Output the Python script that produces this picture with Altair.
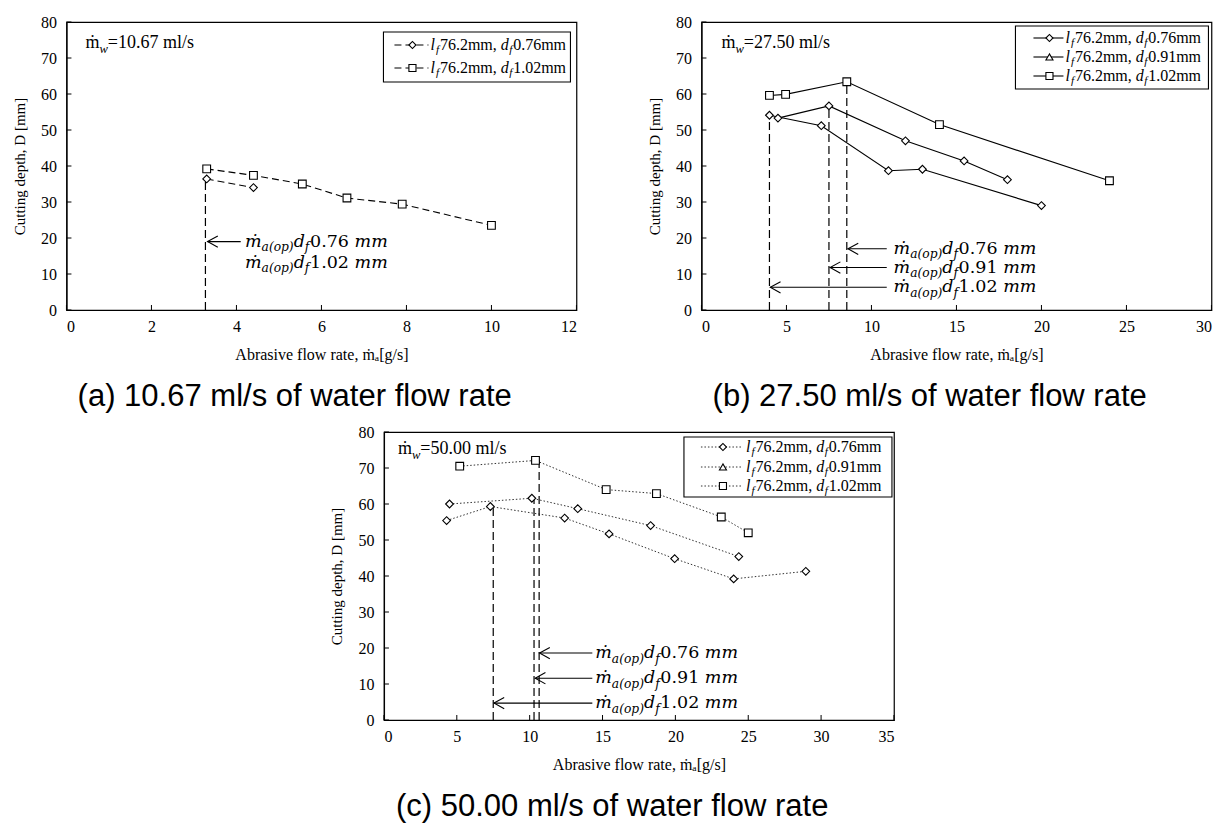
import altair as alt
import pandas as pd

# ------------------------------------------------------------------ data
LF = "76.2"
DF_NAMES = ["0.76", "0.91", "1.02"]
SHAPES = ["diamond", "triangle-up", "square"]

# (a) water flow 10.67 ml/s
A_FLOW = "10.67"
A_CAPTION = "(a) 10.67 ml/s of water flow rate"
A_X_076 = [3.3, 4.4]
A_Y_076 = [36.4, 34.0]
A_X_102 = [3.3, 4.4, 5.55, 6.6, 7.9, 10.0]
A_Y_102 = [39.2, 37.4, 35.0, 31.1, 29.4, 23.5]
A_OPT_X = [3.27]
A_OPT_TOP = [36.4]
A_ARROW_HEAD = [3.32]
A_ARROW_TAIL = [4.1]
A_ARROW_Y = [19.0]
A_LABEL_X = 4.2
A_LABEL_Y = [19.0, 13.1]
A_LABEL_DF = ["0.76", "1.02"]

# (b) water flow 27.50 ml/s
B_FLOW = "27.50"
B_CAPTION = "(b) 27.50 ml/s of water flow rate"
B_X_076 = [4.0, 7.05, 11.0, 13.0, 20.0]
B_Y_076 = [54.1, 51.2, 38.7, 39.1, 29.0]
B_X_091 = [4.5, 7.5, 12.0, 15.45, 18.0]
B_Y_091 = [53.3, 56.7, 47.0, 41.4, 36.2]
B_X_102 = [4.0, 4.95, 8.55, 14.0, 24.0]
B_Y_102 = [59.6, 59.9, 63.4, 51.5, 35.9]
B_OPT_X = [4.0, 7.5, 8.55]
B_OPT_TOP = [54.1, 56.7, 63.4]
B_ARROW_HEAD = [8.62, 7.57, 4.05]
B_ARROW_TAIL = [10.9, 10.9, 10.9]
B_ARROW_Y = [17.0, 11.8, 6.3]
B_LABEL_X = 11.3
B_LABEL_Y = [17.0, 11.8, 6.3]
B_LABEL_DF = ["0.76", "0.91", "1.02"]

# (c) water flow 50.00 ml/s
C_FLOW = "50.00"
C_CAPTION = "(c) 50.00 ml/s of water flow rate"
C_X_076 = [4.3, 7.3, 12.4, 15.45, 19.95, 24.0, 28.95]
C_Y_076 = [55.4, 59.3, 56.1, 51.7, 44.8, 39.2, 41.3]
C_X_091 = [4.5, 10.15, 13.3, 18.3, 24.35]
C_Y_091 = [60.0, 61.6, 58.7, 54.0, 45.4]
C_X_102 = [5.2, 10.4, 15.25, 18.7, 23.15, 25.0]
C_Y_102 = [70.5, 72.1, 64.0, 62.9, 56.4, 52.0]
C_OPT_X = [7.5, 10.3, 10.65]
C_OPT_TOP = [59.3, 61.6, 72.1]
C_ARROW_HEAD = [10.68, 10.38, 7.55]
C_ARROW_TAIL = [14.3, 14.3, 14.3]
C_ARROW_Y = [18.6, 11.6, 4.7]
C_LABEL_X = 14.5
C_LABEL_Y = [18.6, 11.6, 4.7]
C_LABEL_DF = ["0.76", "0.91", "1.02"]

Y_TICKS = [0, 10, 20, 30, 40, 50, 60, 70, 80]
A_X_TICKS = [0, 2, 4, 6, 8, 10, 12]
B_X_TICKS = [0, 5, 10, 15, 20, 25, 30]
C_X_TICKS = [0, 5, 10, 15, 20, 25, 30, 35]

# ------------------------------------------------------------------ style
SERIF = "Liberation Serif"
MATH = "DejaVu Serif"
SANS = "Liberation Sans"
W, H = 510, 288
ONE = pd.DataFrame({"k": [0]})

W_T = {c: .5 for c in "0123456789"}
W_T.update({".": .25, ",": .25, " ": .25, "m": .778, "l": .278, "s": .389,
            "/": .278, "=": .564, "ṁ": .778})
W_TI = {"l": .34, "d": .52, "f": .36, "w": .667, "a": .5, "(": .333,
        ")": .333, "o": .5, "p": .5, "m": .722, "ṁ": .722}
W_D = {c: .636 for c in "0123456789"}
W_D.update({".": .318, " ": .318})
W_DI = {"ṁ": .95, "m": .95, "a": .6, "o": .6, "p": .64, "d": .64, "f": .42,
        "(": .39, ")": .39, " ": .318}


def seg_width(txt, italic, font):
    if font == MATH:
        tab = W_DI if italic else W_D
    else:
        tab = W_TI if italic else W_T
    return sum(tab.get(c, .55) for c in txt)


def rich(segments, font, size, x, y):
    layers = []
    off = 0.0
    for txt, kind in segments:
        sub = "s" in kind
        it = "i" in kind
        fs = size * 0.7 if sub else size
        layers.append(
            alt.Chart(ONE).mark_text(
                text=txt, align="left", baseline="middle", font=font,
                fontSize=fs, fontStyle="italic" if it else "normal",
                dx=off, dy=size * 0.32 if sub else 0, color="black")
            .encode(x=x, y=y))
        off += seg_width(txt, it, font) * fs
    return layers


def panel(xmax, xticks, series, dash, lw, lcolor, opt_x, opt_top,
          a_head, a_tail, a_y, lab_x, lab_y, lab_df, flow, flow_pos,
          caption, leg_box, leg_rows, leg_line, leg_mark, leg_text,
          leg_dash):
    xscale = alt.Scale(domain=[0, xmax], nice=False, zero=True)
    yscale = alt.Scale(domain=[0, 80], nice=False, zero=True)
    xaxis = alt.Axis(values=xticks, title="Abrasive flow rate,  ṁₐ[g/s]",
                     labelPadding=8, titlePadding=12,
                     labelFont=SERIF, labelFontSize=16, titleFont=SERIF,
                     titleFontSize=16)
    yaxis = alt.Axis(values=Y_TICKS, title="Cutting depth, D [mm]",
                     labelPadding=10, titlePadding=13,
                     labelFont=SERIF, labelFontSize=16, titleFont=SERIF,
                     titleFontSize=15)

    def X(field=None, datum=None):
        if datum is not None:
            return alt.XDatum(datum, type="quantitative", scale=xscale, axis=xaxis)
        return alt.X(field, type="quantitative", scale=xscale, axis=xaxis)

    def Y(field=None, datum=None):
        if datum is not None:
            return alt.YDatum(datum, type="quantitative", scale=yscale, axis=yaxis)
        return alt.Y(field, type="quantitative", scale=yscale, axis=yaxis)

    rows = []
    for name, xs, ys in series:
        for xv, yv in zip(xs, ys):
            rows.append({"x": xv, "y": yv, "s": name})
    pts = pd.DataFrame(rows)
    names = [s[0] for s in series]
    shp = [SHAPES[DF_NAMES.index(n)] for n in names]

    layers = []
    lkw = dict(color=lcolor, strokeWidth=lw)
    if dash:
        lkw["strokeDash"] = dash
    layers.append(alt.Chart(pts).mark_line(**lkw).encode(
        x=X("x"), y=Y("y"), detail="s:N"))

    opt = pd.DataFrame({"x": opt_x, "y0": [0] * len(opt_x), "y1": opt_top})
    layers.append(alt.Chart(opt).mark_rule(color="black", strokeWidth=1.2,
                                           strokeDash=[8, 4]).encode(
        x=X("x"), y=Y("y0"), y2="y1"))

    arr = pd.DataFrame({"head": a_head, "tail": a_tail, "y": a_y})
    layers.append(alt.Chart(arr).mark_rule(color="black", strokeWidth=1.1).encode(
        x=X("tail"), x2="head", y=Y("y")))
    layers.append(alt.Chart(arr).mark_point(
        shape="M1,-0.55L0,0L1,0.55", size=420, filled=False, color="black",
        strokeWidth=1.1, opacity=1).encode(x=X("head"), y=Y("y")))

    layers.append(alt.Chart(pts).mark_point(
        filled=True, fill="white", stroke="black", strokeWidth=1.1, size=60,
        opacity=1).encode(
        x=X("x"), y=Y("y"),
        shape=alt.Shape("s:N", scale=alt.Scale(domain=names, range=shp),
                        legend=None)))

    tx = pd.DataFrame({"t": xticks})
    layers.append(alt.Chart(tx).mark_rule(color="black", strokeWidth=1).encode(
        x=X("t"), y=alt.value(H), y2=alt.value(H - 5)))
    ty = pd.DataFrame({"t": Y_TICKS})
    layers.append(alt.Chart(ty).mark_rule(color="black", strokeWidth=1).encode(
        y=Y("t"), x=alt.value(0), x2=alt.value(5)))

    for ly, dfn in zip(lab_y, lab_df):
        segs = [("ṁ", "i"), ("a(op)", "si"), ("d", "i"), ("f", "si"),
                (dfn, "n"), (" ", "n"), ("mm", "i")]
        layers += rich(segs, MATH, 17.5, X(datum=lab_x), Y(datum=ly))

    layers += rich([("ṁ", "n"), ("w", "si"), ("=" + flow + " ml/s", "n")],
                   SERIF, 18, alt.value(flow_pos[0]), alt.value(flow_pos[1]))

    bx0, bx1, by0, by1 = leg_box
    layers.append(alt.Chart(ONE).mark_rect(
        fill="white", stroke="black", strokeWidth=1.1).encode(
        x=alt.value(bx0), x2=alt.value(bx1), y=alt.value(by0), y2=alt.value(by1)))
    for name, ry in zip(names, leg_rows):
        rkw = dict(color=lcolor, strokeWidth=lw)
        if leg_dash:
            rkw["strokeDash"] = leg_dash
        layers.append(alt.Chart(ONE).mark_rule(**rkw).encode(
            x=alt.value(leg_line[0]), x2=alt.value(leg_line[1]), y=alt.value(ry)))
        layers.append(alt.Chart(ONE).mark_point(
            shape=SHAPES[DF_NAMES.index(name)], filled=True, fill="white",
            stroke="black", strokeWidth=1.1, size=50, opacity=1).encode(
            x=alt.value(leg_mark), y=alt.value(ry)))
        segs = [("l", "i"), ("f", "si"), (LF + "mm, ", "n"), ("d", "i"),
                ("f", "si"), (name + "mm", "n")]
        layers += rich(segs, SERIF, 16, alt.value(leg_text), alt.value(ry))

    return alt.layer(*layers).properties(
        width=W, height=H,
        title=alt.TitleParams(caption, orient="bottom", anchor="middle",
                              frame="bounds", font=SANS, fontSize=31,
                              fontWeight="normal", color="black", offset=20))


pa = panel(12, A_X_TICKS,
           [("0.76", A_X_076, A_Y_076), ("1.02", A_X_102, A_Y_102)],
           [7, 4], 1.1, "black", A_OPT_X, A_OPT_TOP,
           A_ARROW_HEAD, A_ARROW_TAIL, A_ARROW_Y, A_LABEL_X, A_LABEL_Y, A_LABEL_DF,
           A_FLOW, (19, 21), A_CAPTION,
           (317, 504, 10, 60), [23, 46], (328, 362), 346, 364, [7, 4])

pb = panel(30, B_X_TICKS,
           [("0.76", B_X_076, B_Y_076), ("0.91", B_X_091, B_Y_091),
            ("1.02", B_X_102, B_Y_102)],
           None, 1.1, "black", B_OPT_X, B_OPT_TOP,
           B_ARROW_HEAD, B_ARROW_TAIL, B_ARROW_Y, B_LABEL_X, B_LABEL_Y, B_LABEL_DF,
           B_FLOW, (20, 21), B_CAPTION,
           (314, 507, 4, 67), [16, 35, 54], (332, 362), 348, 364, None)

pc = panel(35, C_X_TICKS,
           [("0.76", C_X_076, C_Y_076), ("0.91", C_X_091, C_Y_091),
            ("1.02", C_X_102, C_Y_102)],
           [1.5, 2], 1.0, "#333333", C_OPT_X, C_OPT_TOP,
           C_ARROW_HEAD, C_ARROW_TAIL, C_ARROW_Y, C_LABEL_X, C_LABEL_Y, C_LABEL_DF,
           C_FLOW, (14, 17), C_CAPTION,
           (300, 508, 5, 65), [15, 35, 54], (317, 358), 339, 362, [1.5, 2])

top = alt.hconcat(pa, pb, spacing=68)
chart = alt.vconcat(top, pc, spacing=10, center=True).properties(
    padding={"left": 3, "top": 5, "right": 0, "bottom": 0}
).configure_view(stroke="black", strokeWidth=1.2).configure_axis(
    labelFont=SERIF, labelFontSize=16, labelColor="black",
    titleFont=SERIF, titleFontSize=15, titleFontWeight="normal",
    titleColor="black", domainColor="black", domainWidth=1.2,
    ticks=False, grid=False
)

chart.save("out.html", embed_options={"renderer": "svg", "actions": False})
